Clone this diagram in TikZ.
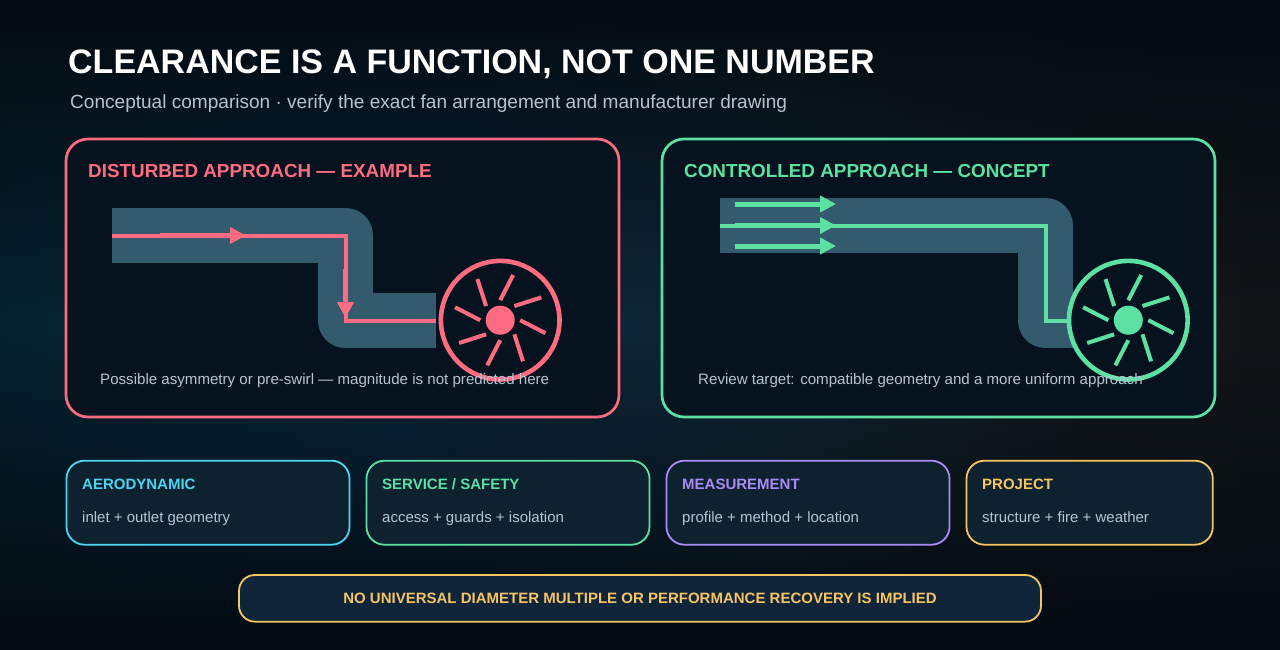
\documentclass[tikz,border=0pt]{standalone}
\usepackage{fontspec}
\setmainfont{Liberation Sans}
\usetikzlibrary{positioning, arrows.meta, fadings}

\definecolor{coral}{HTML}{FF6B81}
\definecolor{mint}{HTML}{5CE1A2}
\definecolor{skyc}{HTML}{4DD6F2}
\definecolor{violetc}{HTML}{A98BF5}
\definecolor{amberc}{HTML}{F5C563}
\definecolor{ductc}{HTML}{345A6D}
\definecolor{panelc}{HTML}{06131F}
\definecolor{cardc}{HTML}{0D212F}
\definecolor{bannerc}{HTML}{10243A}
\definecolor{greyc}{HTML}{B3C5D1}
\definecolor{edgec}{HTML}{030A10}
\definecolor{backa}{HTML}{06222F}
\definecolor{backb}{HTML}{08263E}
\definecolor{backc}{HTML}{122632}
\definecolor{backd}{HTML}{14171A}
\definecolor{backe}{HTML}{121518}

\pgfdeclarehorizontalshading{backdrop}{100bp}{
    color(0bp)=(backa);
    color(25bp)=(backa);
    color(40.5bp)=(backb);
    color(56bp)=(backc);
    color(68bp)=(backd);
    color(75bp)=(backe);
    color(100bp)=(backe)}
\tikzfading[name=edgefade, top color=transparent!0, bottom color=transparent!0, middle color=transparent!100]

\tikzset{
    x=1pt, y=-1pt,
    >={Triangle[length=16pt, width=16pt]},
    label/.style={anchor=base west, inner sep=0pt},
    panel/.style={draw=#1, fill=panelc, line width=2.7pt, rounded corners=22pt, inner sep=0pt, outer sep=0pt, minimum width=553pt, minimum height=278pt},
    card/.style={draw=#1, fill=cardc, line width=1.8pt, rounded corners=18pt, inner sep=0pt, outer sep=0pt, minimum width=283pt, minimum height=84pt},
    duct/.style={draw=ductc, line width=55.6pt, line join=round},
    flow/.style={draw=#1, line width=4pt},
    jet/.style={draw=#1, line width=5pt, ->},
    fan/.style={circle, draw=#1, fill=panelc, line width=4.6pt, inner sep=0pt, outer sep=0pt, minimum size=118.6pt},
    hub/.style={circle, fill=#1, inner sep=0pt, outer sep=0pt, minimum size=29pt},
    blade/.style={draw=#1, line width=4pt},
    heading/.style={label, text=#1, font=\fontsize{18.85}{23}\selectfont\bfseries},
    caption/.style={label, text=greyc, font=\fontsize{15.1}{18}\selectfont},
    cardhead/.style={label, text=#1, font=\fontsize{15}{18}\selectfont\bfseries},
    cardtext/.style={label, text=greyc, font=\fontsize{15}{18}\selectfont},
}

\begin{document}
\begin{tikzpicture}
    \useasboundingbox (0,0) rectangle (1280,650);

    % backdrop
    \shade[shading=backdrop] (-4,-4) rectangle (1284,654);
    \fill[color=edgec, path fading=edgefade] (-4,-4) rectangle (1284,654);

    \node[label, text=white, font=\fontsize{34}{40}\selectfont\bfseries] (title) at (68,73.5) {CLEARANCE IS A FUNCTION, NOT ONE NUMBER};
    \node[label, text=greyc, font=\fontsize{19.05}{22}\selectfont] (subtitle) at (70,109) {Conceptual comparison · verify the exact fan arrangement and manufacturer drawing};

    % disturbed side
    \node[panel=coral] (panelL) at (342.5,278) {};
    \node[heading=coral] (headL) at (88,178) {DISTURBED APPROACH — EXAMPLE};

    \coordinate (LA) at (112,235.5);
    \coordinate (LB) at (345.5,235.5);
    \coordinate (LC) at (345.5,320.5);
    \coordinate (LD) at (436,320.5);
    \coordinate (LE) at (160,235.5);
    \coordinate (LF) at (246,235.5);
    \coordinate (LG) at (345.5,269);
    \coordinate (LH) at (345.5,318);

    \draw[duct] (LA) -- (LB) -- (LC) -- (LD);
    \draw[flow=coral] (LA) -- (LB) -- (LC) -- (LD);
    \draw[jet=coral] (LE) -- (LF);
    \draw[jet=coral] (LG) -- (LH);

    \node[fan=coral] (fanL) at (500.2,320.2) {};
    \node[hub=coral] (hubL) at (fanL) {};
    \begin{scope}[shift={(fanL.center)}]
        \foreach \a in {0,45,...,315}
            \draw[blade=coral] (\a:20) -- (\a+16:47);
    \end{scope}
    \node[caption] (noteL) at (100,384) {Possible asymmetry or pre-swirl — magnitude is not predicted here};

    % controlled side
    \node[panel=mint, right=43pt of panelL] (panelR) {};
    \node[heading=mint] (headR) at (684,178) {CONTROLLED APPROACH — CONCEPT};

    \coordinate (RA) at (720,225.5);
    \coordinate (RB) at (1045.5,225.5);
    \coordinate (RC) at (1045.5,320.5);
    \coordinate (RD) at (1128,320.5);
    \coordinate (RE) at (735,204);
    \coordinate (RF) at (836,204);
    \coordinate (RG) at (735,225.5);
    \coordinate (RH) at (836,225.5);
    \coordinate (RI) at (735,246);
    \coordinate (RJ) at (836,246);

    \draw[duct] (RA) -- (RB) -- (RC) -- (RD);
    \draw[flow=mint] (RA) -- (RB) -- (RC) -- (RD);
    \draw[jet=mint] (RE) -- (RF);
    \draw[jet=mint] (RG) -- (RH);
    \draw[jet=mint] (RI) -- (RJ);

    \node[fan=mint] (fanR) at (1128.3,320.2) {};
    \node[hub=mint] (hubR) at (fanR) {};
    \begin{scope}[shift={(fanR.center)}]
        \foreach \a in {0,45,...,315}
            \draw[blade=mint] (\a:20) -- (\a+16:47);
    \end{scope}
    \node[caption] (noteR) at (698,384) {Review target: compatible geometry and a more uniform approach};

    % cards
    \node[card=skyc] (aero) at (208,502.7) {};
    \node[card=mint, right=17pt of aero] (service) {};
    \node[card=violetc, right=17pt of service] (measure) {};
    \node[card=amberc, minimum width=246.3pt, right=17pt of measure] (project) {};

    \node[cardhead=skyc] (aerohead) at (82,489) {AERODYNAMIC};
    \node[cardtext] (aerotext) at (82,522) {inlet + outlet geometry};
    \node[cardhead=mint] (servicehead) at (382,489) {SERVICE / SAFETY};
    \node[cardtext] (servicetext) at (382,522) {access + guards + isolation};
    \node[cardhead=violetc] (measurehead) at (682,489) {MEASUREMENT};
    \node[cardtext] (measuretext) at (682,522) {profile + method + location};
    \node[cardhead=amberc] (projecthead) at (982,489) {PROJECT};
    \node[cardtext] (projecttext) at (982,522) {structure + fire + weather};

    \node[draw=amberc, fill=bannerc, line width=1.8pt, rounded corners=16pt, minimum width=802pt, minimum height=46.7pt, inner sep=0pt, outer sep=0pt, text=amberc, font=\fontsize{15}{18}\selectfont\bfseries] (banner) at (640,598.3) {NO UNIVERSAL DIAMETER MULTIPLE OR PERFORMANCE RECOVERY IS IMPLIED};
\end{tikzpicture}
\end{document}
